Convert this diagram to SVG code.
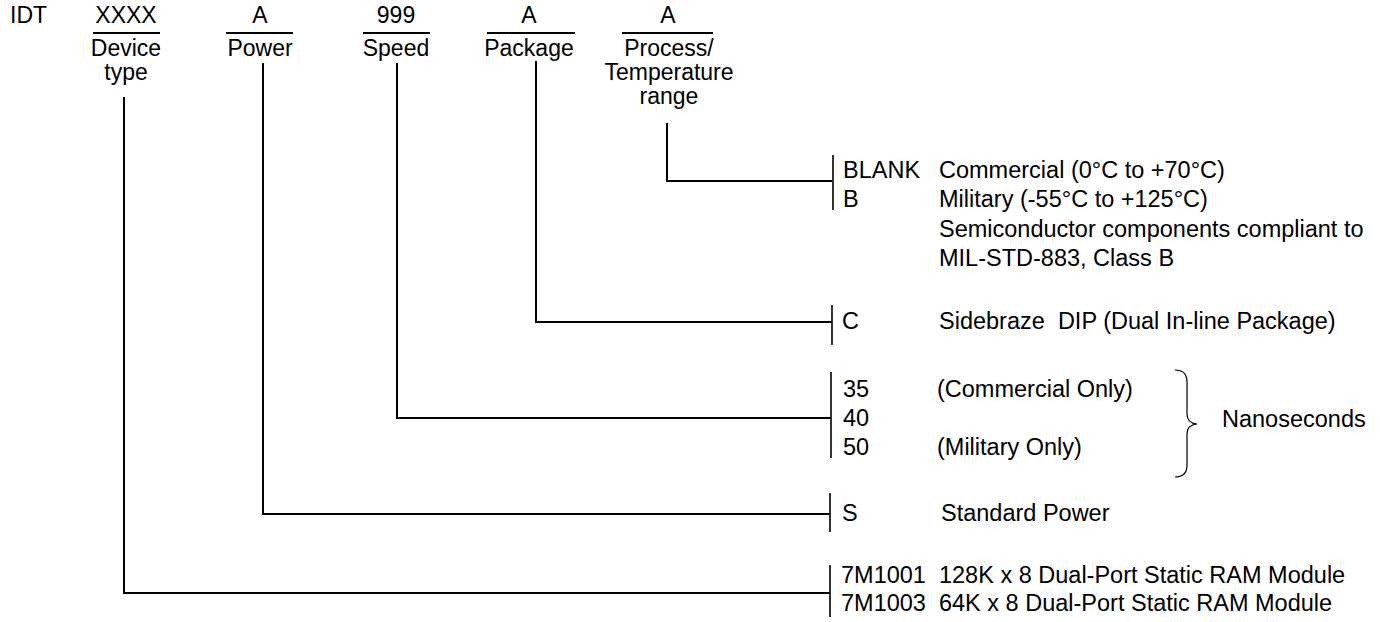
<svg xmlns="http://www.w3.org/2000/svg" width="1380" height="622" viewBox="0 0 1380 622">
<style>
text{font-family:"Liberation Sans",Arial,sans-serif;font-size:23px;fill:#000}
.b{font-size:23.5px}
.c{text-anchor:middle}
.ln{stroke:#000;stroke-width:2;fill:none}
.bar{stroke:#000;stroke-width:1.6;fill:none}
.ov{stroke:#000;stroke-width:2}
</style>
<rect width="1380" height="622" fill="#fff"/>
<g id="header">
<text x="10" y="23">IDT</text>
</g>
<g id="field-device">
<text class="c" x="126" y="23">XXXX</text>
<line class="ov" x1="93" y1="33" x2="160" y2="33"/>
<text class="c" x="126" y="56">Device</text>
<text class="c" x="126" y="80">type</text>
</g>
<g id="field-power">
<text class="c" x="260" y="23">A</text>
<line class="ov" x1="226" y1="33" x2="293" y2="33"/>
<text class="c" x="260" y="56">Power</text>
</g>
<g id="field-speed">
<text class="c" x="396" y="23">999</text>
<line class="ov" x1="363" y1="33" x2="430" y2="33"/>
<text class="c" x="396" y="56">Speed</text>
</g>
<g id="field-package">
<text class="c" x="529" y="23">A</text>
<line class="ov" x1="487" y1="33" x2="575" y2="33"/>
<text class="c" x="529" y="56">Package</text>
</g>
<g id="field-process">
<text class="c" x="668" y="23">A</text>
<line class="ov" x1="622" y1="33" x2="713" y2="33"/>
<text class="c" x="669" y="56">Process/</text>
<text class="c" x="669" y="80">Temperature</text>
<text class="c" x="669" y="104">range</text>
</g>
<g id="connectors">
<polyline class="ln" points="667,123 667,181 832,181"/>
<polyline class="ln" points="536,61 536,322 832,322"/>
<polyline class="ln" points="397,63 397,418 831,418"/>
<polyline class="ln" points="263,63 263,514 830,514"/>
<polyline class="ln" points="124,97 124,593 830,593"/>
</g>
<g id="opt-process">
<line class="bar" x1="833" y1="155" x2="833" y2="210"/>
<text class="b" x="843" y="178">BLANK</text>
<text class="b" x="939" y="178">Commercial (0°C to +70°C)</text>
<text class="b" x="843" y="207">B</text>
<text class="b" x="939" y="207">Military (-55°C to +125°C)</text>
<text class="b" x="939" y="237">Semiconductor components compliant to</text>
<text class="b" x="939" y="266">MIL-STD-883, Class B</text>
</g>
<g id="opt-package">
<line class="bar" x1="832" y1="305" x2="832" y2="345"/>
<text class="b" x="842" y="329">C</text>
<text class="b" x="939" y="329">Sidebraze&#160; DIP (Dual In-line Package)</text>
</g>
<g id="opt-speed">
<line class="bar" x1="831" y1="372" x2="831" y2="458"/>
<text class="b" x="843" y="397">35</text>
<text class="b" x="937" y="397">(Commercial Only)</text>
<text class="b" x="843" y="426">40</text>
<text class="b" x="843" y="455">50</text>
<text class="b" x="937" y="455">(Military Only)</text>
<path d="M1175,370 Q1187,370 1187,382 L1187,414 Q1187,423 1197,424 Q1187,425 1187,434 L1187,465 Q1187,477 1175,477" fill="none" stroke="#000" stroke-width="1.2"/>
<text class="b" x="1222" y="427">Nanoseconds</text>
</g>
<g id="opt-power">
<line class="bar" x1="830" y1="493" x2="830" y2="532"/>
<text class="b" x="842" y="521">S</text>
<text class="b" x="941" y="521">Standard Power</text>
</g>
<g id="opt-device">
<line class="bar" x1="830" y1="565" x2="830" y2="617"/>
<text class="b" x="841" y="583">7M1001&#160; 128K x 8 Dual-Port Static RAM Module</text>
<text class="b" x="841" y="611">7M1003&#160; 64K x 8 Dual-Port Static RAM Module</text>
</g>
</svg>
